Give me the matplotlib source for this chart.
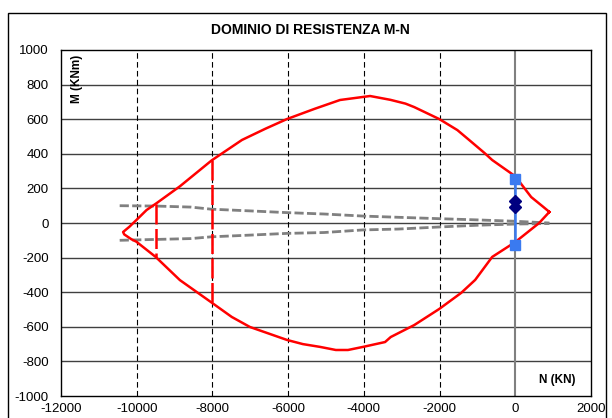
import matplotlib
matplotlib.use("Agg")
import matplotlib.pyplot as plt
from matplotlib.patches import Rectangle

plt.rcParams['font.family'] = ['Liberation Sans', 'DejaVu Sans']
plt.rcParams['axes.unicode_minus'] = False

# resistance domain (N in KN, M in KNm), closed loop
dom_n = [900, 740, 420, 0, -610, -810, -1220, -1530, -2010, -2670, -2900, -3300,
         -3836, -4630, -5300, -6030, -6600, -7220, -8020, -8860, -9480, -9740,
         -10010, -10190, -10360, -10330, -10140, -10010, -9500, -8860, -8040, -7490, -7010,
         -6030, -5610, -5160, -4740, -4420, -4020, -3440, -3290, -2670, -2010, -1430,
         -1060, -610, 0, 630, 900]
dom_m = [64, 93, 150, 270, 364, 404, 480, 537, 601, 670, 690, 712,
         734, 711, 660, 601, 545, 480, 362, 212, 114, 75,
         17, -21, -52, -66, -94, -108, -196, -330, -457, -543, -601,
         -676, -700, -716, -734, -734, -716, -688, -659, -590, -497, -404,
         -329, -196, -110, 0, 64]

# vertical red limits
lim1_n = [-8000, -8000]
lim1_m = [362, -457]
lim2_n = [-9500, -9500]
lim2_m = [110, -196]

# gray dashed envelopes
env_n = [-10450, -9500, -8570, -8040, -7010, -6030, -5050, -4020, -3090, -2010, -1010, 0, 900]
env_up = [100, 98, 92, 80, 70, 60, 52, 40, 33, 25, 18, 10, 0]
env_lo = [-100, -95, -90, -80, -70, -60, -55, -40, -35, -23, -13, -6, -3]

# acting loads
load_n = [0, 0]
load_m = [255, -130]
pt_n = [0, 0]
pt_m = [125, 90]

fig = plt.figure(figsize=(6.12, 4.18), dpi=100)
ax = fig.add_axes([0.0997, 0.0526, 0.8660, 0.8278])

fig.patches.append(Rectangle((0.013, -0.01), 0.977, 0.98, transform=fig.transFigure,
                             fill=False, edgecolor='black', linewidth=1))

for y in range(-800, 1000, 200):
    ax.axhline(y, color='#404040', linewidth=1, zorder=1)
for x in range(-10000, 2000, 2000):
    if x == 0:
        ax.axvline(x, color='#808080', linewidth=1.5, zorder=1)
    else:
        ax.axvline(x, color='black', linewidth=0.8, linestyle=(0, (5, 3)), zorder=1)

ax.plot(env_n, env_up, color='#808080', linewidth=2, linestyle=(0, (3.3, 1.2)), zorder=2)
ax.plot(env_n, env_lo, color='#808080', linewidth=2, linestyle=(0, (3.3, 1.2)), zorder=2)

ax.plot(dom_n, dom_m, color='red', linewidth=1.8, zorder=3)
ax.plot(lim1_n, lim1_m, color='red', linewidth=1.8, linestyle=(0, (8, 1.8)), zorder=3)
ax.plot(lim2_n, lim2_m, color='red', linewidth=1.8, linestyle=(0, (8, 1.8)), zorder=3)

ax.plot(load_n, load_m, color='#3a7af0', linewidth=1.8, marker='s', markersize=7, zorder=4)
ax.plot(pt_n, pt_m, color='#000080', linestyle='none', marker='D', markersize=6, zorder=5)

ax.set_xlim(-12000, 2000)
ax.set_ylim(-1000, 1000)
ax.set_xticks(range(-12000, 2001, 2000))
ax.set_yticks(range(-1000, 1001, 200))
ax.tick_params(length=0, labelsize=9.5)
ax.tick_params(axis='y', pad=9)
ax.tick_params(axis='x', pad=5)
for s in ax.spines.values():
    s.set_linewidth(1)
    s.set_color('black')

ax.text(0.018, 0.985, 'M (KNm)', transform=ax.transAxes, rotation=90, ha='left', va='top',
        fontsize=8.5, fontweight='bold')
ax.text(0.97, 0.03, 'N (KN)', transform=ax.transAxes, ha='right', va='bottom',
        fontsize=8.5, fontweight='bold')

fig.text(0.507, 0.928, 'DOMINIO DI RESISTENZA M-N', ha='center', va='center',
         fontsize=10, fontweight='bold')

fig.savefig('out.png', dpi=100)
